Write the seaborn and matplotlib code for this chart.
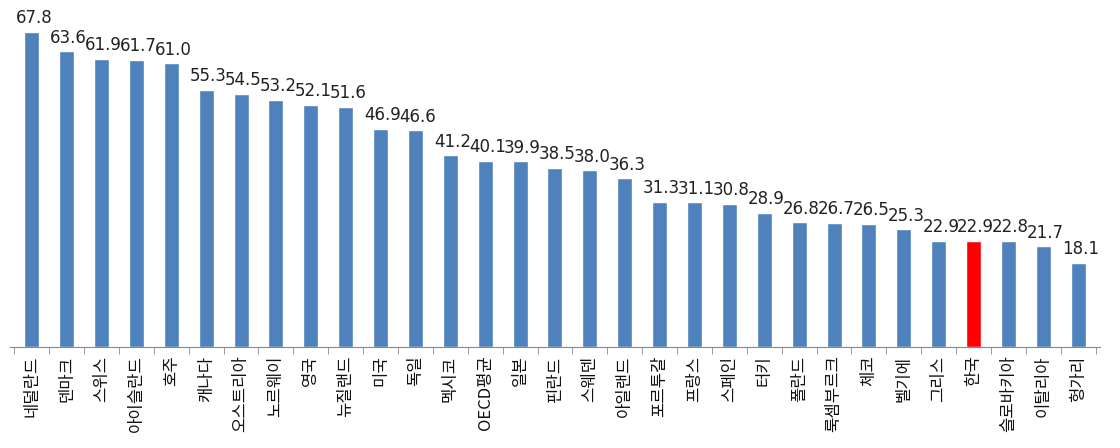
import seaborn as sns
import matplotlib.pyplot as plt
import matplotlib.ticker as mticker
import numpy as np
import pandas as pd

sns.set_style("white")
plt.rcParams['font.family'] = ['Noto Sans CJK KR', 'DejaVu Sans']

countries = ['네덜란드', '덴마크', '스위스', '아이슬란드', '호주', '캐나다', '오스트리아',
             '노르웨이', '영국', '뉴질랜드', '미국', '독일', '멕시코', 'OECD평균', '일본',
             '핀란드', '스웨덴', '아일랜드', '포르투갈', '프랑스', '스페인', '터키', '폴란드',
             '룩셈부르크', '체코', '벨기에', '그리스', '한국', '슬로바키아', '이탈리아', '헝가리']
values = [67.8, 63.6, 61.9, 61.7, 61.0, 55.3, 54.5, 53.2, 52.1, 51.6, 46.9, 46.6,
          41.2, 40.1, 39.9, 38.5, 38.0, 36.3, 31.3, 31.1, 30.8, 28.9, 26.8, 26.7,
          26.5, 25.3, 22.9, 22.9, 22.8, 21.7, 18.1]
highlight = '한국'

df = pd.DataFrame({'country': countries, 'value': values})
palette = {c: ('#FF0000' if c == highlight else '#4F81BD') for c in countries}

fig = plt.figure(figsize=(11.2, 4.48), dpi=100)
ax = fig.add_axes([0.009, 0.225, 0.973, 0.748])

sns.barplot(data=df, x='country', y='value', hue='country', palette=palette,
            width=0.43, legend=False, ax=ax, saturation=1)

# value labels above each bar
for i, v in enumerate(values):
    ax.text(i + 0.06, v + 1.0, f"{v:.1f}", ha='center', va='bottom', fontsize=12,
            color='#222222', family='DejaVu Sans')

ax.set_ylim(0, 72)
ax.set_xlim(-0.62, len(countries) - 0.38)
ax.set_xlabel('')
ax.set_ylabel('')
ax.set_yticks([])

for s in ['top', 'right', 'left']:
    ax.spines[s].set_visible(False)
ax.spines['bottom'].set_color('#888888')

ax.set_xticks(range(len(countries)))
ax.set_xticklabels(countries, rotation=90, fontsize=12, color='#111111')
ax.xaxis.set_minor_locator(mticker.FixedLocator(np.arange(-0.5, len(countries), 1)))
ax.tick_params(axis='x', which='major', length=0, pad=6)
ax.tick_params(axis='x', which='minor', length=5, direction='out', color='#888888',
               bottom=True)

fig.savefig('out.png', dpi=100)
